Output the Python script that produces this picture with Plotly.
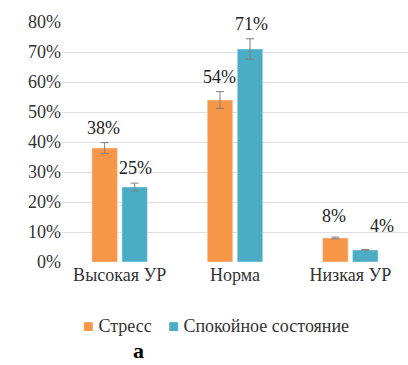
import plotly.graph_objects as go

categories = ["Высокая УР", "Норма", "Низкая УР"]
stress = [0.38, 0.54, 0.08]
stress_err = [0.018, 0.028, 0.003]
calm = [0.25, 0.71, 0.04]
calm_err = [0.013, 0.034, 0.002]
series_names = ["Стресс", "Спокойное состояние"]
yticks = [0, 0.1, 0.2, 0.3, 0.4, 0.5, 0.6, 0.7, 0.8]

ORANGE = "#F79646"
BLUE = "#4BACC6"
FONT = "Liberation Serif, Times New Roman, serif"

stress_lbl = [(-16, 3), (-16, 3), (-16, 9)]
calm_lbl = [(16, 3), (16, 3), (32, 11)]

fig = go.Figure()
fig.add_trace(go.Bar(x=categories, y=stress, name=series_names[0], marker_color=ORANGE,
                     error_y=dict(type="data", array=stress_err, color="#808080", thickness=1, width=4)))
fig.add_trace(go.Bar(x=categories, y=calm, name=series_names[1], marker_color=BLUE,
                     error_y=dict(type="data", array=calm_err, color="#808080", thickness=1, width=4)))

for vals, errs, lbl in [(stress, stress_err, stress_lbl), (calm, calm_err, calm_lbl)]:
    for c, v, e, (xs, ys) in zip(categories, vals, errs, lbl):
        fig.add_annotation(x=c, y=v + e, text=f"{round(v*100)}%", showarrow=False,
                           xshift=xs, yanchor="bottom", yshift=ys,
                           font=dict(family=FONT, size=18, color="#222"))

fig.add_annotation(x=0.055, y=-0.265, xref="paper", yref="paper", xanchor="left", yanchor="middle",
                   text=f"<span style='color:{ORANGE}'>■</span> {series_names[0]}",
                   showarrow=False, font=dict(family=FONT, size=18, color="#333"))
fig.add_annotation(x=0.3, y=-0.265, xref="paper", yref="paper", xanchor="left", yanchor="middle",
                   text=f"<span style='color:{BLUE}'>■</span> {series_names[1]}",
                   showarrow=False, font=dict(family=FONT, size=18, color="#333"))

fig.add_annotation(x=0.2, y=-0.367, xref="paper", yref="paper", text="<b>a</b>",
                   showarrow=False, yanchor="middle", font=dict(family=FONT, size=22, color="#000"))

fig.update_layout(
    width=408, height=365,
    margin=dict(l=62, r=0, t=22, b=103),
    paper_bgcolor="white", plot_bgcolor="white",
    barmode="group", bargap=0.48, bargroupgap=0.15,
    font=dict(family=FONT, size=18, color="#333"),
    showlegend=False,
    yaxis=dict(range=[0, 0.8], tickvals=yticks, tickformat=".0%", gridcolor="#E0E0E0",
               zeroline=False, showline=False, ticks="", tickfont=dict(size=18)),
    xaxis=dict(showline=False, ticks="", tickfont=dict(size=18)),
)

fig.write_html("out.html")
